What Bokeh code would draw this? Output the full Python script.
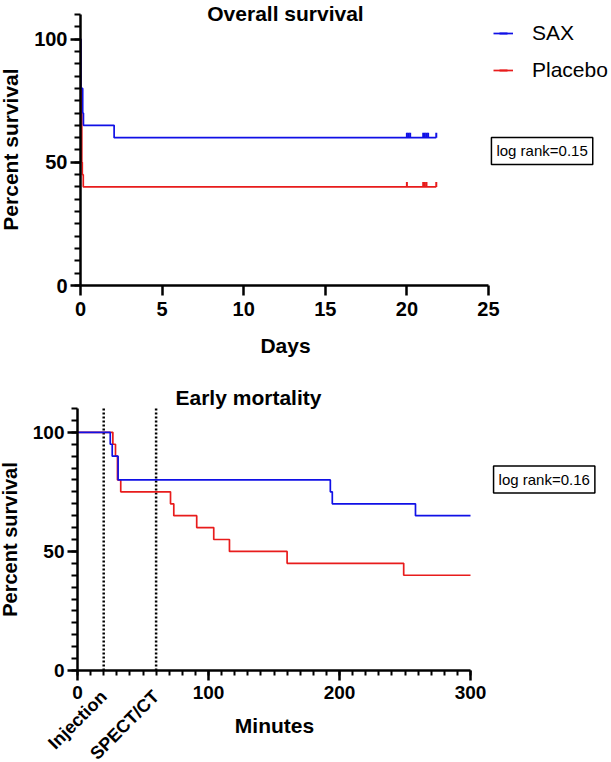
import math
from bokeh.plotting import figure
from bokeh.models import (Range1d, SingleIntervalTicker, Label, LabelSet, ColumnDataSource,
                          Legend, LegendItem)
from bokeh.core.properties import value
from bokeh.layouts import column
from bokeh.embed import file_html
from bokeh.resources import INLINE

# ---------------- data ----------------
# Overall survival (days)
sax_days = [0, 0.024, 0.135, 0.18, 2.06, 21.8]
sax_days_surv = [100, 80, 70, 65, 60, 60]
pla_days = [0, 0.02, 0.08, 0.11, 0.17, 21.8]
pla_days_surv = [100, 80, 50, 45, 40, 40]
sax_censor_days = [20.0, 20.1, 20.2, 21.0, 21.1, 21.2, 21.3, 21.8]
pla_censor_days = [20.0, 21.0, 21.1, 21.2, 21.8]

# Early mortality (minutes)
sax_min = [0, 25, 26.5, 31, 193, 194.5, 258, 300]
sax_min_surv = [100, 95, 90, 80, 75, 70, 65, 65]
pla_min = [0, 27, 29, 30.5, 33, 71, 73.5, 91, 104, 116, 160, 249, 300]
pla_min_surv = [100, 95, 90, 80, 75, 70, 65, 60, 55, 50, 45, 40, 40]

event_minutes = [20, 60]
event_labels = ["Injection", "SPECT/CT"]

groups = ["SAX", "Placebo"]
logrank_overall = "log rank=0.15"
logrank_early = "log rank=0.16"

BLUE = "#1010e6"
RED = "#e81c1c"
FONT = "Liberation Sans"


def style_axes(p, xbounds, ybounds, fs):
    for ax in (p.xaxis[0], p.yaxis[0]):
        ax.fixed_location = 0
        ax.axis_line_width = 2.5
        ax.axis_line_color = "black"
        ax.major_tick_line_width = 2.5
        ax.major_tick_out = 10
        ax.major_tick_in = 0
        ax.minor_tick_line_width = 2
        ax.minor_tick_out = 6
        ax.minor_tick_in = 0
        ax.major_label_text_font = FONT
        ax.major_label_text_font_style = "bold"
        ax.major_label_text_font_size = fs
        ax.major_label_text_color = "black"
    p.xaxis[0].bounds = xbounds
    p.yaxis[0].bounds = ybounds
    p.xaxis[0].major_label_standoff = 6
    p.yaxis[0].major_label_standoff = 3
    p.xgrid.visible = False
    p.ygrid.visible = False
    p.outline_line_color = None


def text_label(p, x, y, text, size, bold=True, angle=0.0):
    p.add_layout(Label(x=x, y=y, text=text, text_align="center", text_baseline="middle",
                       text_font=FONT, text_font_style="bold" if bold else "normal",
                       text_font_size=size, text_color="black", angle=angle))


def box_label(p, x, y, text):
    p.add_layout(Label(x=x, y=y, text=text, text_align="left",
                       text_baseline="middle", text_font=FONT, text_font_size="15px",
                       text_color="black", border_line_color="black", border_line_width=1.5,
                       background_fill_color="white", padding=5))


# ---------------- top figure (Overall survival) ----------------
p1 = figure(width=611, height=370, output_backend="svg", toolbar_location=None,
            x_range=Range1d(-4.902, 32.537), y_range=Range1d(-34.50, 115.68),
            min_border_left=0, min_border_right=0, min_border_top=0, min_border_bottom=0)
p1.xaxis[0].ticker = SingleIntervalTicker(interval=5, num_minor_ticks=0)
p1.yaxis[0].ticker = SingleIntervalTicker(interval=50, num_minor_ticks=10)
style_axes(p1, (0, 25), (0, 110), "20px")

r_pla = p1.step(pla_days, pla_days_surv, mode="after", line_color=RED, line_width=1.7)
r_sax = p1.step(sax_days, sax_days_surv, mode="after", line_color=BLUE, line_width=1.7)

# censor marks: short upward ticks sitting on the curve
tick_lift = 1.0
c_pla = p1.scatter(x=pla_censor_days, y=[pla_days_surv[-1] + tick_lift] * len(pla_censor_days),
                   marker="dash", angle=math.pi / 2, size=5, line_color=RED, line_width=2)
c_sax = p1.scatter(x=sax_censor_days, y=[sax_days_surv[-1] + tick_lift] * len(sax_censor_days),
                   marker="dash", angle=math.pi / 2, size=5, line_color=BLUE, line_width=2)

legend = Legend(items=[LegendItem(label=groups[0], renderers=[r_sax, c_sax]),
                       LegendItem(label=groups[1], renderers=[r_pla, c_pla])],
                location=(493, 288), orientation="vertical",
                label_text_font=FONT, label_text_font_size="21px", label_text_color="black",
                glyph_width=20, glyph_height=24, label_height=24, spacing=13,
                label_standoff=19, padding=0, margin=0,
                border_line_color=None, background_fill_alpha=0)
p1.add_layout(legend)

text_label(p1, 12.56, 110.3, "Overall survival", "21px")
text_label(p1, 12.56, -24.35, "Days", "21px")
text_label(p1, -4.29, 55.2, "Percent survival", "21px", angle=math.pi / 2)
box_label(p1, 25.18, 54.6, logrank_overall)

# ---------------- bottom figure (Early mortality) ----------------
p2 = figure(width=611, height=392, output_backend="svg", toolbar_location=None,
            x_range=Range1d(-58.78, 407.63), y_range=Range1d(-38.63, 125.96),
            min_border_left=0, min_border_right=0, min_border_top=0, min_border_bottom=0)
p2.xaxis[0].ticker = SingleIntervalTicker(interval=100, num_minor_ticks=10)
p2.yaxis[0].ticker = SingleIntervalTicker(interval=50, num_minor_ticks=10)
style_axes(p2, (0, 300), (0, 110), "19px")
p2.xaxis[0].minor_tick_out = 5

for t in event_minutes:
    p2.segment(x0=[t], x1=[t], y0=[0], y1=[110], line_color="black",
               line_width=2.5, line_dash="2 2")

p2.step(pla_min, pla_min_surv, mode="after", line_color=RED, line_width=1.7)
p2.step(sax_min, sax_min_surv, mode="after", line_color=BLUE, line_width=1.7)

ev_src = ColumnDataSource(dict(x=event_minutes, y=[-9.7] * len(event_minutes), text=event_labels))
p2.add_layout(LabelSet(x="x", y="y", text="text", source=ev_src, angle=math.pi / 4,
                       text_align="right", text_baseline="middle", text_font=value(FONT),
                       text_font_style="bold", text_font_size="18px", text_color="black"))

text_label(p2, 130.5, 114.6, "Early mortality", "21px")
text_label(p2, 150.4, -23.1, "Minutes", "21px")
text_label(p2, -51.9, 55.0, "Percent survival", "20px", angle=math.pi / 2)
box_label(p2, 317.6, 80.2, logrank_early)

layout = column(p1, p2, spacing=0)
open("out.html", "w").write(file_html(layout, INLINE))
